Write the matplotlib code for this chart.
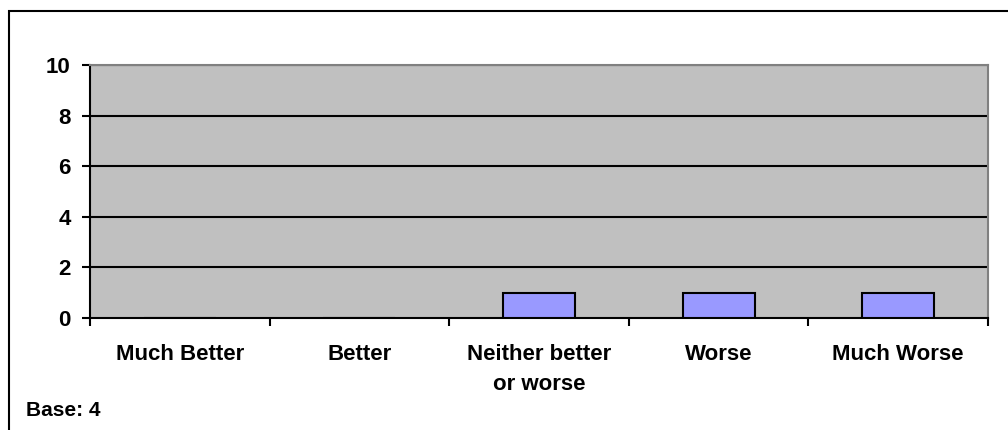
import matplotlib
matplotlib.use("Agg")
import matplotlib.pyplot as plt
from matplotlib.patches import Rectangle

# ----------------------------
# Data
# ----------------------------
categories = ["Much Better", "Better", "Neither better\nor worse", "Worse", "Much Worse"]
counts = [0, 0, 1, 1, 1]
y_ticks = [0, 2, 4, 6, 8, 10]
base_note = "Base: 4"

plt.rcParams["font.family"] = ["Liberation Sans", "DejaVu Sans"]

fig = plt.figure(figsize=(10.08, 4.30), dpi=100)
ax = fig.add_axes([90 / 1008, 1 - 318 / 430, 898 / 1008, 253 / 430])

ax.set_facecolor("#C0C0C0")
x = range(len(categories))
ax.bar(x, counts, width=0.4, color="#9999FF", edgecolor="black", linewidth=1.5, zorder=3)

ax.set_xlim(-0.5, len(categories) - 0.5)
ax.set_ylim(0, 10)
ax.set_yticks(y_ticks)
ax.set_yticklabels([str(v) for v in y_ticks], fontsize=16, fontweight="bold")
for v in y_ticks[1:]:
    ax.axhline(v, color="black", linewidth=1.5, zorder=2)

# category labels centred, ticks at the boundaries
ax.set_xticks(list(x))
ax.set_xticklabels(categories, fontsize=16, fontweight="bold", linespacing=1.55)
ax.tick_params(axis="x", length=0, pad=19)
ax.set_xticks([i - 0.5 for i in range(len(categories) + 1)], minor=True)
ax.tick_params(axis="x", which="minor", length=6, width=1.5, direction="out")
ax.tick_params(axis="y", length=6, width=1.5, direction="out", pad=8)

for side in ["left", "bottom"]:
    ax.spines[side].set_color("black")
    ax.spines[side].set_linewidth(1.5)
for side in ["top", "right"]:
    ax.spines[side].set_color("#808080")
    ax.spines[side].set_linewidth(1.5)

fig.text(26 / 1008, 1 - 410 / 430, base_note, fontsize=15, fontweight="bold", va="center")

# outer frame
fig.patches.append(Rectangle((8.5 / 1008, -0.1), 1.1, 1 - 11.5 / 430 + 0.1,
                             transform=fig.transFigure, fill=False,
                             edgecolor="black", linewidth=1.5))

fig.savefig("out.png", dpi=100)
